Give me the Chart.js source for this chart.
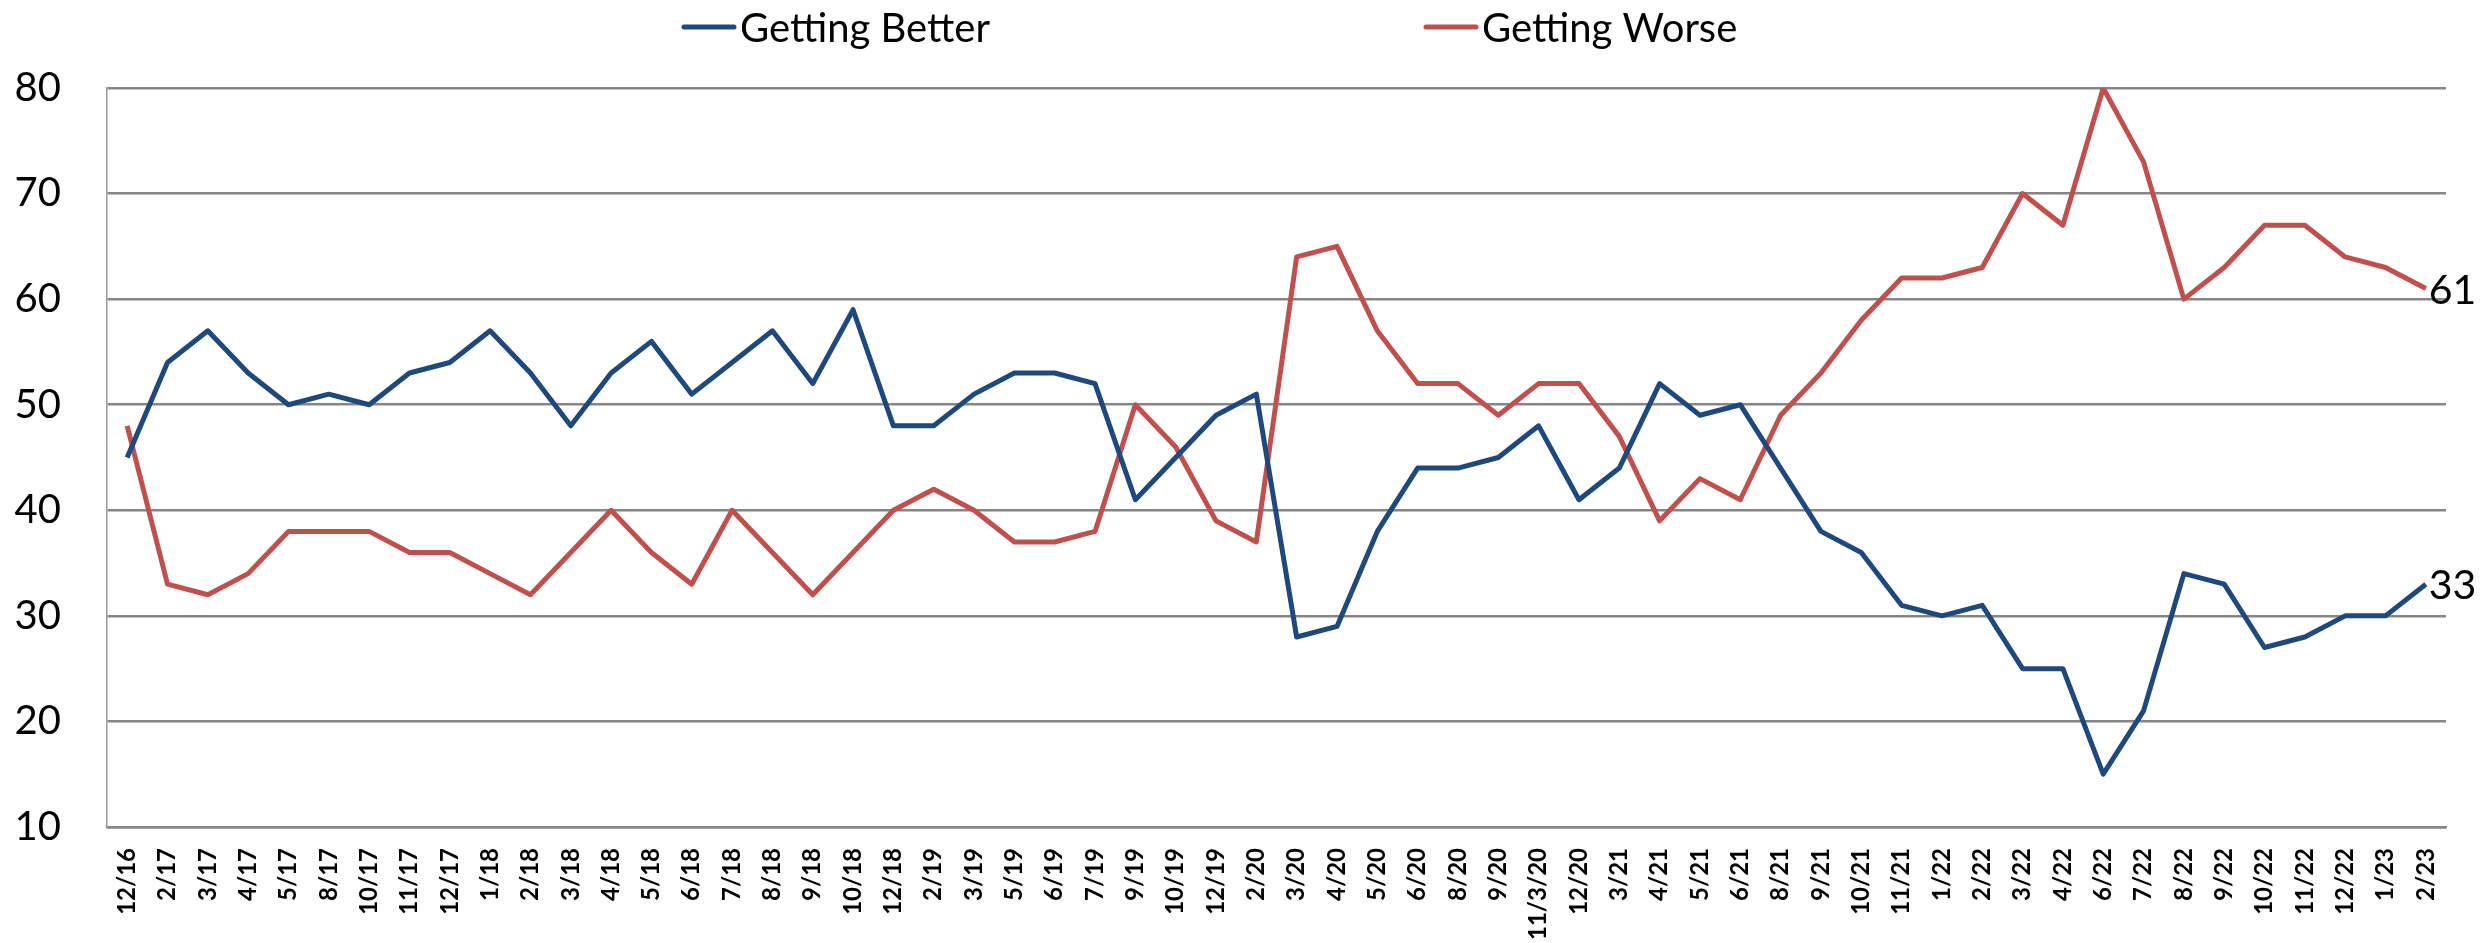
<!DOCTYPE html>
<html>
<head>
<meta charset="utf-8">
<script src="https://cdn.jsdelivr.net/npm/chart.js@4/dist/chart.umd.min.js"></script>
<style>
  html, body { margin: 0; padding: 0; background: #fff; }
  #wrap { width: 2484px; height: 943px; }
</style>
</head>
<body>
<div id="wrap"><canvas id="chart" width="2484" height="943"></canvas></div>
<script>
const labels = ['12/16','2/17','3/17','4/17','5/17','8/17','10/17','11/17','12/17','1/18','2/18','3/18','4/18','5/18','6/18','7/18','8/18','9/18','10/18','12/18','2/19','3/19','5/19','6/19','7/19','9/19','10/19','12/19','2/20','3/20','4/20','5/20','6/20','8/20','9/20','11/3/20','12/20','3/21','4/21','5/21','6/21','8/21','9/21','10/21','11/21','1/22','2/22','3/22','4/22','6/22','7/22','8/22','9/22','10/22','11/22','12/22','1/23','2/23'];

const gettingBetter = [45,54,57,53,50,51,50,53,54,57,53,48,53,56,51,54,57,52,59,48,48,51,53,53,52,41,45,49,51,28,29,38,44,44,45,48,41,44,52,49,50,44,38,36,31,30,31,25,25,15,21,34,33,27,28,30,30,33];

const gettingWorse = [48,33,32,34,38,38,38,36,36,34,32,36,40,36,33,40,36,32,36,40,42,40,37,37,38,50,46,39,37,64,65,57,52,52,49,52,52,47,39,43,41,49,53,58,62,62,63,70,67,80,73,60,63,67,67,64,63,61];

const seriesNames = ['Getting Better', 'Getting Worse'];
const yMin = 10, yMax = 80, yStep = 10;

const BLUE = '#1f497d';
const RED = '#c0504d';
const FONT = 'Lato, "Open Sans", "DejaVu Sans", sans-serif';

// legend drawn at the top, like the Excel original
const legendPlugin = {
  id: 'topLegend',
  afterDraw(chart) {
    const ctx = chart.ctx;
    const items = [
      { x: 684, color: BLUE, text: seriesNames[0] },
      { x: 1426, color: RED, text: seriesNames[1] },
    ];
    ctx.save();
    ctx.font = `40px ${FONT}`;
    ctx.textBaseline = 'middle';
    ctx.fillStyle = '#000';
    items.forEach(it => {
      ctx.strokeStyle = it.color;
      ctx.lineWidth = 5;
      ctx.lineCap = 'round';
      ctx.beginPath();
      ctx.moveTo(it.x, 27);
      ctx.lineTo(it.x + 50, 27);
      ctx.stroke();
      ctx.fillText(it.text, it.x + 56, 29);
    });
    ctx.restore();
  }
};

// value label at the last point of each series
const endLabelPlugin = {
  id: 'endLabels',
  afterDatasetsDraw(chart) {
    const ctx = chart.ctx;
    ctx.save();
    ctx.font = `41px ${FONT}`;
    ctx.fillStyle = '#000';
    ctx.textBaseline = 'middle';
    ctx.textAlign = 'left';
    chart.data.datasets.forEach((ds, i) => {
      const meta = chart.getDatasetMeta(i);
      const pt = meta.data[meta.data.length - 1];
      ctx.fillText(String(ds.data[ds.data.length - 1]), pt.x + 3, pt.y + 2);
    });
    ctx.restore();
  }
};

new Chart(document.getElementById('chart'), {
  type: 'line',
  plugins: [legendPlugin, endLabelPlugin],
  data: {
    labels,
    datasets: [
      {
        label: seriesNames[0],
        data: gettingBetter,
        borderColor: BLUE,
        borderWidth: 5,
        pointRadius: 0,
        tension: 0,
        borderJoinStyle: 'round',
      },
      {
        label: seriesNames[1],
        data: gettingWorse,
        borderColor: RED,
        borderWidth: 5,
        pointRadius: 0,
        tension: 0,
        borderJoinStyle: 'round',
      },
    ]
  },
  options: {
    responsive: false,
    animation: false,
    events: [],
    layout: { padding: { top: 88, right: 38, bottom: 0, left: 0 } },
    scales: {
      x: {
        type: 'category',
        offset: true,
        grid: { display: false },
        border: { display: true, color: '#868686', width: 2.5 },
        ticks: {
          color: '#000',
          font: { family: FONT, size: 24, weight: 'bold' },
          minRotation: 90,
          maxRotation: 90,
          autoSkip: false,
          padding: 13,
        },
        afterFit(scale) { scale.height = 116; },
      },
      y: {
        min: yMin,
        max: yMax,
        grid: { color: '#868686', lineWidth: 2.5, drawTicks: false },
        border: { display: true, color: '#9a9a9a', width: 1.5 },
        ticks: {
          stepSize: yStep,
          color: '#000',
          font: { family: FONT, size: 40 },
          padding: 46,
        },
        afterFit(scale) { scale.width = 107; },
      },
    },
    plugins: {
      legend: { display: false },
      tooltip: { enabled: false },
    },
  }
});
</script>
</body>
</html>
